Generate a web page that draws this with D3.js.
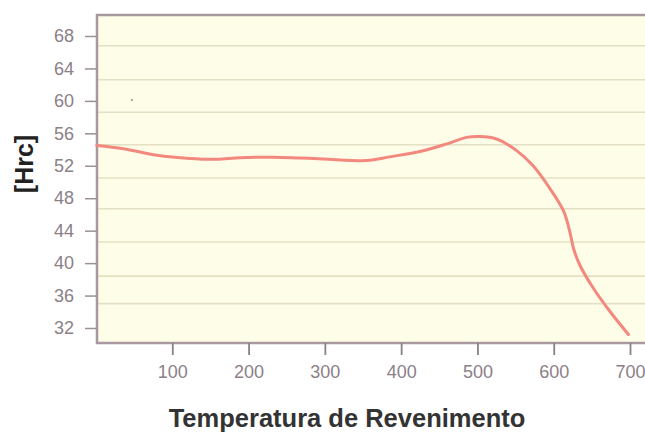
<!DOCTYPE html>
<html>
<head>
<meta charset="utf-8">
<script src="https://cdn.jsdelivr.net/npm/d3@7"></script>
<style>
  html, body { margin: 0; padding: 0; background: #ffffff; }
  svg { display: block; font-family: "Liberation Sans", Arial, sans-serif; }
</style>
</head>
<body>
<svg id="chart" width="645" height="435"></svg>
<script>
// Data
const temperature = [1, 36, 80, 123, 158, 189, 232, 267, 298, 355, 385, 429, 460, 486, 503, 525, 551, 573, 595, 613, 621, 626, 634, 652, 674, 698];
const hardness   = [54.5, 54.1, 53.3, 52.9, 52.8, 53.0, 53.05, 52.95, 52.85, 52.65, 53.1, 53.85, 54.7, 55.5, 55.6, 55.3, 53.9, 52.0, 49.2, 46.4, 43.9, 41.8, 39.8, 36.9, 34.0, 31.2];
const xTicks = [100, 200, 300, 400, 500, 600, 700];
const yTicks = [32, 36, 40, 44, 48, 52, 56, 60, 64, 68];
const gridValues = [66.8, 62.6, 58.6, 54.6, 50.5, 46.7, 42.6, 38.4, 35.0];
const yLabel = "[Hrc]";
const xLabel = "Temperatura de Revenimento";

const svg = d3.select("#chart");
const x = d3.scaleLinear().domain([0, 700]).range([96, 630]);
const y = d3.scaleLinear().domain([32, 68]).range([328, 36]);

const plotLeft = 97, plotTop = 15, plotBottom = 343, plotRight = 660;

// background
svg.append("rect")
  .attr("x", plotLeft).attr("y", plotTop)
  .attr("width", plotRight - plotLeft).attr("height", plotBottom - plotTop)
  .attr("fill", "#fefde8");

// grid lines
svg.append("g").selectAll("line").data(gridValues).join("line")
  .attr("x1", plotLeft).attr("x2", plotRight)
  .attr("y1", d => y(d)).attr("y2", d => y(d))
  .attr("stroke", "#e4e0c6").attr("stroke-width", 1.6);

// border (left, top, bottom)
const borderColor = "#a8989f";
svg.append("path")
  .attr("d", `M${plotRight},${plotTop}H${plotLeft}V${plotBottom}H${plotRight}`)
  .attr("fill", "none").attr("stroke", borderColor).attr("stroke-width", 2.5);

// y axis
const yAxis = d3.axisLeft(y).tickValues(yTicks).tickSize(12).tickPadding(11);
const gy = svg.append("g").attr("transform", `translate(${plotLeft},0)`).call(yAxis);
gy.select(".domain").remove();
gy.selectAll(".tick line").attr("stroke", "#9a9096").attr("stroke-width", 1.5);
gy.selectAll(".tick text").attr("fill", "#8c8088").style("font-size", "18px");

// x axis
const xAxis = d3.axisBottom(x).tickValues(xTicks).tickSize(12).tickPadding(10);
const gx = svg.append("g").attr("transform", `translate(0,${plotBottom})`).call(xAxis);
gx.select(".domain").remove();
gx.selectAll(".tick line").attr("stroke", "#8a8088").attr("stroke-width", 1.8);
gx.selectAll(".tick text").attr("fill", "#8c8088").style("font-size", "18px");

// small dot artifact
svg.append("circle").attr("cx", x(47)).attr("cy", y(60.1)).attr("r", 1.1).attr("fill", "#a09a90");

// curve
const line = d3.line()
  .x((d, i) => x(temperature[i]))
  .y((d, i) => y(hardness[i]))
  .curve(d3.curveCatmullRom.alpha(0.5));
svg.append("path")
  .datum(hardness)
  .attr("d", line)
  .attr("fill", "none")
  .attr("stroke", "#f2887e")
  .attr("stroke-width", 3)
  .attr("stroke-linecap", "round");

// labels
svg.append("text")
  .attr("transform", `translate(33,164) rotate(-90)`)
  .attr("text-anchor", "middle")
  .attr("fill", "#222")
  .style("font-size", "25px").style("font-weight", "bold")
  .text(yLabel);

svg.append("text")
  .attr("x", 347).attr("y", 427)
  .attr("text-anchor", "middle")
  .attr("fill", "#333")
  .style("font-size", "25.5px").style("font-weight", "bold")
  .text(xLabel);
</script>
</body>
</html>
